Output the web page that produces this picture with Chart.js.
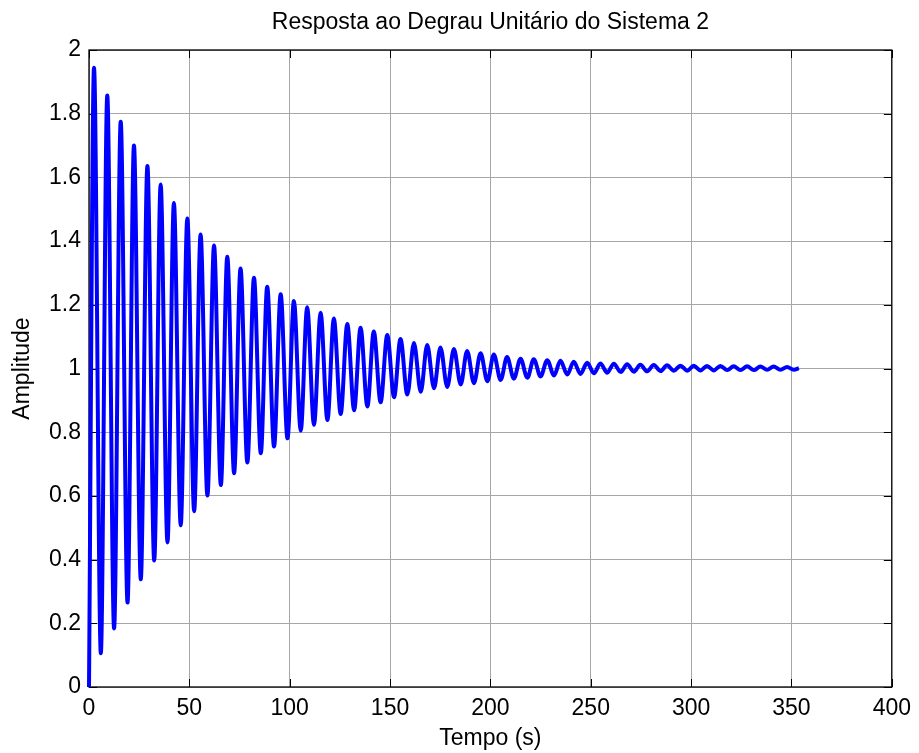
<!DOCTYPE html>
<html>
<head>
<meta charset="utf-8">
<title>Resposta ao Degrau Unitário do Sistema 2</title>
<script src="https://cdn.jsdelivr.net/npm/chart.js@4/dist/chart.umd.min.js"></script>
<style>
  html, body { margin: 0; padding: 0; background: #fff; }
  #wrap { width: 919px; height: 753px; }
</style>
</head>
<body>
<div id="wrap"><canvas id="stepChart" width="919" height="753"></canvas></div>
<script>
// Extremos da resposta ao degrau (tempo em s)
const picoTempo = [
  2.5, 9.1, 15.8, 22.4, 29.1, 35.7, 42.3, 49.0, 55.6, 62.3,
  68.9, 75.5, 82.2, 88.8, 95.5, 102.1, 108.7, 115.4, 122.0, 128.7,
  135.3, 141.9, 148.6, 155.2, 161.9, 168.5, 175.1, 181.8, 188.4, 195.1,
  201.7, 208.3, 215.0, 221.6, 228.3, 234.9, 241.5, 248.2, 254.8, 261.5,
  268.1, 274.7, 281.4, 288.0, 294.7, 301.3, 307.9, 314.6, 321.2, 327.9,
  334.5, 341.1, 347.8
];
const picoValor = [
  1.944, 1.857, 1.775, 1.700, 1.636, 1.578, 1.520, 1.471, 1.421, 1.386,
  1.351, 1.314, 1.285, 1.257, 1.233, 1.212, 1.192, 1.175, 1.157, 1.140,
  1.128, 1.116, 1.105, 1.093, 1.080, 1.074, 1.066, 1.061, 1.055, 1.048,
  1.044, 1.036, 1.031, 1.029, 1.026, 1.024, 1.021, 1.018, 1.016, 1.015,
  1.013, 1.012, 1.011, 1.010, 1.009, 1.009, 1.008, 1.008, 1.007, 1.007,
  1.006, 1.006, 1.005
];
const valeTempo = [
  5.9, 12.5, 19.2, 25.8, 32.5, 39.1, 45.7, 52.4, 59.0, 65.7,
  72.3, 78.9, 85.6, 92.2, 98.9, 105.5, 112.1, 118.8, 125.4, 132.1,
  138.7, 145.3, 152.0, 158.6, 165.3, 171.9, 178.5, 185.2, 191.8, 198.5,
  205.1, 211.7, 218.4, 225.0, 231.7, 238.3, 244.9, 251.6, 258.2, 264.9,
  271.5, 278.1, 284.8, 291.4, 298.1, 304.7, 311.3, 318.0, 324.6, 331.3,
  337.9, 344.5, 351.2
];
const valeValor = [
  0.106, 0.184, 0.265, 0.338, 0.397, 0.454, 0.508, 0.552, 0.601, 0.634,
  0.671, 0.705, 0.734, 0.755, 0.781, 0.805, 0.823, 0.838, 0.857, 0.869,
  0.881, 0.894, 0.910, 0.918, 0.927, 0.938, 0.942, 0.950, 0.954, 0.960,
  0.964, 0.968, 0.971, 0.975, 0.978, 0.981, 0.983, 0.985, 0.987, 0.989,
  0.990, 0.991, 0.992, 0.993, 0.993, 0.994, 0.994, 0.995, 0.995, 0.995,
  0.996, 0.996, 0.996
];
const inicio = { x: 0, y: 0 };
const fim = { x: 353.7, y: 1.001 };

const xTicks = [0, 50, 100, 150, 200, 250, 300, 350, 400];
const yTicks = [0, 0.2, 0.4, 0.6, 0.8, 1, 1.2, 1.4, 1.6, 1.8, 2];

// monta a sequência pico/vale na ordem do tempo
const pontos = [inicio];
picoTempo.forEach((t, i) => {
  pontos.push({ x: t, y: picoValor[i] });
  pontos.push({ x: valeTempo[i], y: valeValor[i] });
});
pontos.push(fim);

const FONT = "'Liberation Sans', Arial, sans-serif";
const FSIZE = 23;

// moldura preta e marcas de escala para dentro, nos quatro lados
const molduraPlugin = {
  id: 'moldura',
  beforeDatasetsDraw(chart) {
    const { ctx, chartArea: a, scales: { x, y } } = chart;
    const len = 8;
    ctx.save();
    ctx.strokeStyle = '#000';
    ctx.lineWidth = 1;
    ctx.beginPath();
    xTicks.forEach(v => {
      const px = Math.round(x.getPixelForValue(v)) + 0.5;
      ctx.moveTo(px, a.bottom); ctx.lineTo(px, a.bottom - len);
      ctx.moveTo(px, a.top); ctx.lineTo(px, a.top + len);
    });
    yTicks.forEach(v => {
      const py = Math.round(y.getPixelForValue(v)) + 0.5;
      ctx.moveTo(a.left, py); ctx.lineTo(a.left + len, py);
      ctx.moveTo(a.right, py); ctx.lineTo(a.right - len, py);
    });
    ctx.stroke();
    ctx.lineWidth = 1.3;
    ctx.strokeRect(a.left, a.top, a.right - a.left, a.bottom - a.top);
    ctx.restore();
  }
};

new Chart(document.getElementById('stepChart'), {
  type: 'line',
  data: {
    datasets: [{
      data: pontos,
      borderColor: '#0000ff',
      borderWidth: 4,
      pointRadius: 0,
      cubicInterpolationMode: 'monotone',
      fill: false,
      clip: false
    }]
  },
  options: {
    responsive: false,
    animation: false,
    layout: { padding: { left: 0, right: 24, top: 0, bottom: 0 } },
    plugins: {
      legend: { display: false },
      tooltip: { enabled: false },
      title: {
        display: true,
        text: 'Resposta ao Degrau Unitário do Sistema 2',
        color: '#000',
        fullSize: false,
        font: { family: FONT, size: FSIZE, weight: 'normal' },
        padding: { top: 9, bottom: 13.4 }
      }
    },
    scales: {
      x: {
        type: 'linear',
        min: 0, max: 400,
        afterFit: s => { s.height = 66; },
        afterBuildTicks: s => { s.ticks = xTicks.map(v => ({ value: v })); },
        grid: { color: '#a6a6a6', lineWidth: 1, drawTicks: false },
        border: { display: false },
        ticks: { color: '#000', padding: 8, font: { family: FONT, size: FSIZE } },
        title: {
          display: true, text: 'Tempo (s)', color: '#000',
          font: { family: FONT, size: FSIZE }, padding: { top: 4, bottom: 1 }
        }
      },
      y: {
        min: 0, max: 2,
        afterFit: s => { s.width = 89; },
        afterBuildTicks: s => { s.ticks = yTicks.map(v => ({ value: v })); },
        grid: { color: '#a6a6a6', lineWidth: 1, drawTicks: false },
        border: { display: false },
        ticks: {
          color: '#000', padding: 8, font: { family: FONT, size: FSIZE },
          callback: v => String(Math.round(v * 10) / 10)
        },
        title: {
          display: true, text: 'Amplitude', color: '#000',
          font: { family: FONT, size: FSIZE }, padding: { top: 9, bottom: 4 }
        }
      }
    }
  },
  plugins: [molduraPlugin]
});
</script>
</body>
</html>
